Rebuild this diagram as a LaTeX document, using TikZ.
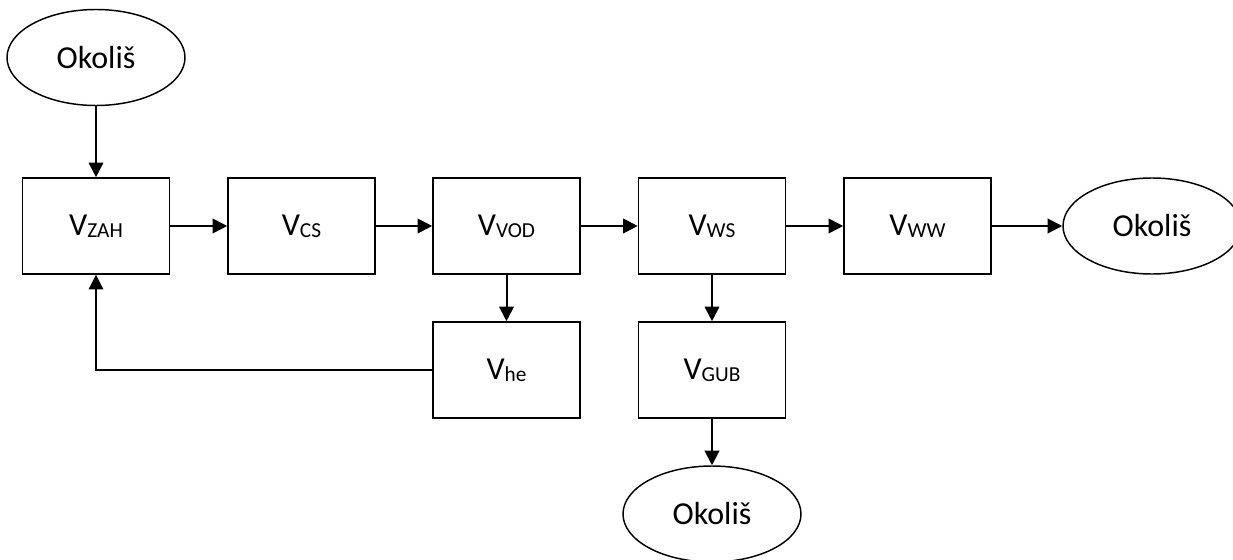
\documentclass[tikz,border=0pt]{standalone}
\usepackage{fontspec}
\setmainfont{Carlito}
\usetikzlibrary{shapes.geometric,arrows.meta}
\newcommand{\vsub}[1]{V\raisebox{-1.5pt}{\fontsize{16}{16}\selectfont #1}}
\tikzstyle{vol_box}=[rectangle,draw,line width=1.2pt,minimum width=110.25pt,minimum height=72pt,inner sep=0pt,font=\fontsize{24}{28}\selectfont]
\tikzstyle{env_oval}=[ellipse,draw,line width=1.1pt,inner sep=0pt,minimum width=133.5pt,minimum height=72pt,font=\fontsize{24}{28}\selectfont]
\tikzstyle{flow}=[-{Triangle[length=11pt,width=11pt]},line width=1.5pt]

\begin{document}
\begin{tikzpicture}[x=0.75pt,y=-0.75pt]
\useasboundingbox (0,0) rectangle (1233,560);
\node[env_oval] (envin) at (96,57.5) {Okoliš};
\node[vol_box] (zah) at (96,226) {\vsub{ZAH}};\node[vol_box] (cs) at (301.5,226) {\vsub{CS}};
\node[vol_box] (vod) at (506.5,226) {\vsub{VOD}};\node[vol_box] (ws) at (712,226) {\vsub{WS}};
\node[vol_box] (ww) at (917.5,226) {\vsub{WW}};
\node[env_oval] (envout) at (1152,226) {Okoliš};
\node[vol_box] (he) at (506.5,370) {\vsub{he}};\node[vol_box] (gub) at (712,370) {\vsub{GUB}};
\node[env_oval] (envgub) at (712,514) {Okoliš};
\draw[flow] (envin) -- (zah);
\draw[flow] (zah) -- (cs);\draw[flow] (cs) -- (vod);
\draw[flow] (vod) -- (ws);\draw[flow] (ws) -- (ww);
\draw[flow] (ww) -- (envout);
\draw[flow] (vod) -- (he);\draw[flow] (ws) -- (gub);
\draw[flow] (gub) -- (envgub);
\draw[flow,line width=1.1pt] (he.west) -| (zah.south);

\end{tikzpicture}
\end{document}
